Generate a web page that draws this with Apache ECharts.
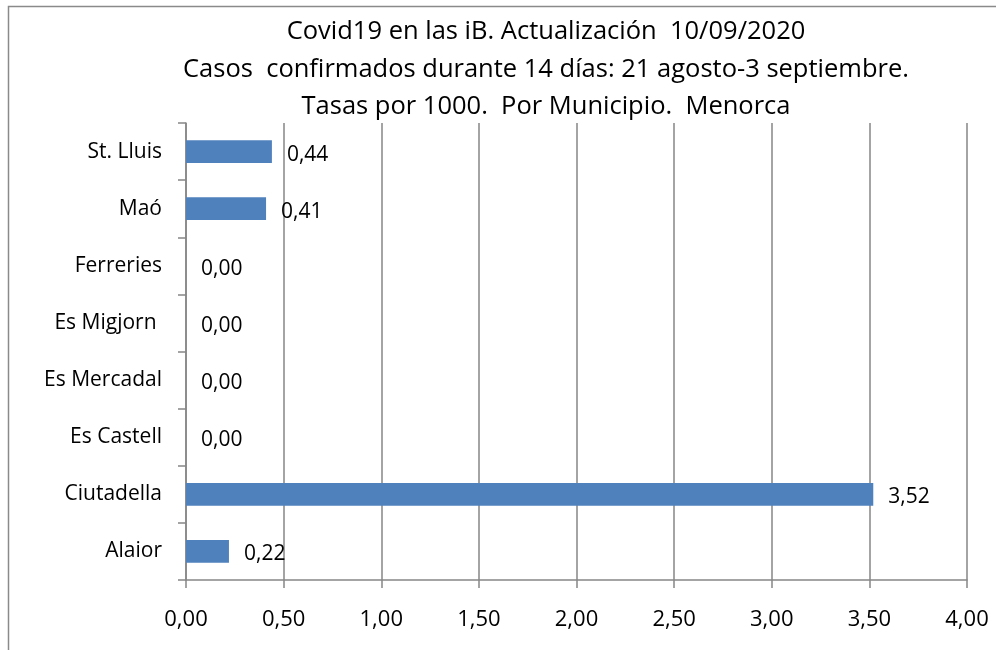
<!DOCTYPE html>
<html>
<head>
<meta charset="utf-8">
<script src="https://cdn.jsdelivr.net/npm/echarts@6/dist/echarts.min.js"></script>
<style>html,body{margin:0;padding:0;background:#fff}#c{width:996px;height:650px}</style>
</head>
<body>
<div id="c"></div>
<script>
const categories = ['Alaior', 'Ciutadella', 'Es Castell', 'Es Mercadal', 'Es Migjorn ', 'Ferreries', 'Maó', 'St. Lluis'];
const values = [0.22, 3.52, 0.00, 0.00, 0.00, 0.00, 0.41, 0.44];
const xTicks = [0, 0.5, 1, 1.5, 2, 2.5, 3, 3.5, 4];
const titleLines = ['Covid19 en las iB. Actualización  10/09/2020', 'Casos  confirmados durante 14 días: 21 agosto-3 septiembre.', 'Tasas por 1000.  Por Municipio.  Menorca'];

const FONT = '"Open Sans", "Noto Sans", sans-serif';
const fmt = v => Number(v).toFixed(2).replace('.', ',');
const chart = echarts.init(document.getElementById('c'), null, {renderer: 'canvas'});
chart.setOption({
  backgroundColor: '#fff',
  animation: false,
  graphic: [{
    type: 'rect', shape: {x: 8.5, y: 6.5, width: 1100, height: 800},
    style: {fill: 'none', stroke: '#8a8a8a', lineWidth: 1.5}, silent: true, z: -1
  }],
  title: {
    text: titleLines.join('\n'),
    left: 541, top: 8, textAlign: 'center',
    textStyle: {fontFamily: FONT, fontSize: 25.5, fontWeight: 'normal', color: '#000', lineHeight: 37.5}
  },
  grid: {left: 186, right: 29, top: 123, bottom: 70, containLabel: false},
  xAxis: {
    type: 'value', min: 0, max: 4, interval: 0.5,
    axisLine: {show: true, lineStyle: {color: '#868686', width: 1.5}},
    axisTick: {show: true, length: 8, lineStyle: {color: '#868686', width: 1.5}},
    splitLine: {show: true, lineStyle: {color: '#868686', width: 1.5}},
    axisLabel: {margin: 29, fontFamily: FONT, fontSize: 22, color: '#000', formatter: v => fmt(v)}
  },
  yAxis: {
    type: 'category', data: categories,
    axisLine: {show: true, lineStyle: {color: '#868686', width: 1.5}},
    axisTick: {show: true, length: 8, interval: 0, lineStyle: {color: '#868686', width: 1.5}},
    axisLabel: {margin: 24, fontFamily: FONT, fontSize: 21, color: '#000', interval: 0, padding: [4, 0, 0, 0]}
  },
  series: [{
    type: 'bar', data: values, barWidth: '40%',
    itemStyle: {color: '#4F81BD'},
    label: {show: true, position: 'right', distance: 15, offset: [0, 3], fontFamily: FONT, fontSize: 21, color: '#000', formatter: p => fmt(p.value)}
  }]
});
</script>
</body>
</html>
